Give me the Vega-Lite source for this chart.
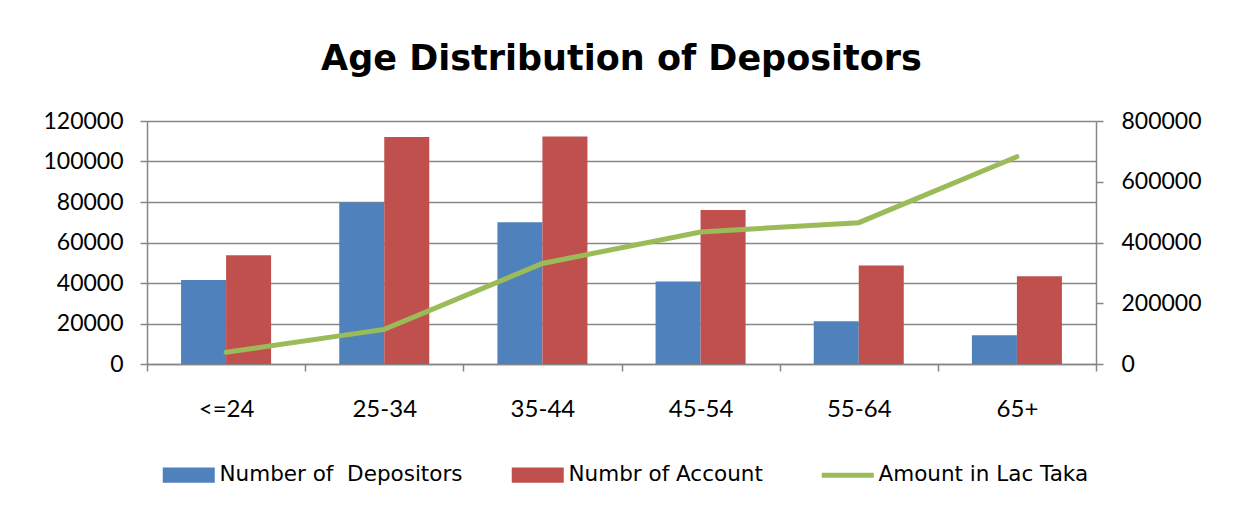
{
  "$schema": "https://vega.github.io/schema/vega-lite/v6.json",
  "width": 949,
  "height": 243,
  "autosize": {"type": "none"},
  "padding": {"left": 147, "top": 121, "right": 139, "bottom": 149},
  "background": "white",
  "config": {
    "font": "Lato",
    "view": {"stroke": null},
    "axis": {"labelFont": "Lato", "labelFontSize": 23, "labelColor": "black", "domainColor": "#868686", "domainWidth": 1.5, "tickColor": "#868686", "tickWidth": 1.5, "tickSize": 7, "gridColor": "#868686", "gridWidth": 1.5, "title": null}
  },
  "title": {"text": "Age Distribution of Depositors", "fontSize": 35, "font": "DejaVu Sans", "fontWeight": "bold", "color": "black", "anchor": "middle", "offset": 33},
  "data": {
    "values": [
      {"age": "<=24", "series": "Number of\u00a0 Depositors", "value": 41500},
      {"age": "25-34", "series": "Number of\u00a0 Depositors", "value": 79700},
      {"age": "35-44", "series": "Number of\u00a0 Depositors", "value": 70000},
      {"age": "45-54", "series": "Number of\u00a0 Depositors", "value": 40700},
      {"age": "55-64", "series": "Number of\u00a0 Depositors", "value": 21100},
      {"age": "65+", "series": "Number of\u00a0 Depositors", "value": 14200},
      {"age": "<=24", "series": "Numbr of Account", "value": 53700},
      {"age": "25-34", "series": "Numbr of Account", "value": 112100},
      {"age": "35-44", "series": "Numbr of Account", "value": 112400},
      {"age": "45-54", "series": "Numbr of Account", "value": 76000},
      {"age": "55-64", "series": "Numbr of Account", "value": 48700},
      {"age": "65+", "series": "Numbr of Account", "value": 43300},
      {"age": "<=24", "series": "Amount in Lac Taka", "value": 38500},
      {"age": "25-34", "series": "Amount in Lac Taka", "value": 114000},
      {"age": "35-44", "series": "Amount in Lac Taka", "value": 331000},
      {"age": "45-54", "series": "Amount in Lac Taka", "value": 434600},
      {"age": "55-64", "series": "Amount in Lac Taka", "value": 465300},
      {"age": "65+", "series": "Amount in Lac Taka", "value": 682500}
    ]
  },
  "encoding": {
    "x": {
      "field": "age", "type": "nominal", "sort": null,
      "scale": {"paddingInner": 0, "paddingOuter": 0},
      "axis": {"labelAngle": 0, "tickBand": "extent", "labelPadding": 26, "labelFontSize": 24, "grid": false}
    },
    "color": {
      "field": "series", "type": "nominal",
      "scale": {"domain": ["Number of\u00a0 Depositors", "Numbr of Account", "Amount in Lac Taka"], "range": ["#4F81BD", "#C0504D", "#9BBB59"]},
      "legend": {
        "title": null, "orient": "none", "legendX": 31, "legendY": 343, "direction": "horizontal",
        "labelFont": "DejaVu Sans", "labelFontSize": 21.5, "labelColor": "black", "labelLimit": 400, "labelOffset": 20,
        "columnPadding": 48, "symbolSize": 2704, "symbolStrokeWidth": 0,
        "encode": {
          "symbols": {
            "update": {
              "shape": {"signal": "datum.label === 'Amount in Lac Taka' ? 'stroke' : 'M-1,-0.29H1V0.29H-1Z'"},
              "fill": {"signal": "datum.label === 'Amount in Lac Taka' ? 'transparent' : scale('color', datum.value)"},
              "stroke": {"signal": "scale('color', datum.value)"},
              "strokeWidth": {"signal": "datum.label === 'Amount in Lac Taka' ? 5 : 0"},
              "opacity": {"value": 1}
            }
          }
        }
      }
    }
  },
  "layer": [
    {
      "transform": [{"filter": "datum.series !== 'Amount in Lac Taka'"}],
      "mark": {"type": "bar", "opacity": 1},
      "encoding": {
        "xOffset": {"field": "series", "type": "nominal", "sort": ["Number of\u00a0 Depositors", "Numbr of Account"], "scale": {"paddingInner": 0, "paddingOuter": 0.757}},
        "y": {
          "field": "value", "type": "quantitative",
          "scale": {"domain": [0, 120000], "nice": false},
          "axis": {"values": [0, 20000, 40000, 60000, 80000, 100000, 120000], "format": "d", "labelPadding": 17, "grid": true, "orient": "left"}
        }
      }
    },
    {
      "transform": [{"filter": "datum.series === 'Amount in Lac Taka'"}],
      "mark": {"type": "line", "strokeWidth": 5, "strokeCap": "round"},
      "encoding": {
        "y": {
          "field": "value", "type": "quantitative",
          "scale": {"domain": [0, 800000], "nice": false},
          "axis": {"values": [0, 200000, 400000, 600000, 800000], "format": "d", "labelPadding": 18, "grid": false, "orient": "right"}
        }
      }
    }
  ],
  "resolve": {"scale": {"y": "independent"}}
}
